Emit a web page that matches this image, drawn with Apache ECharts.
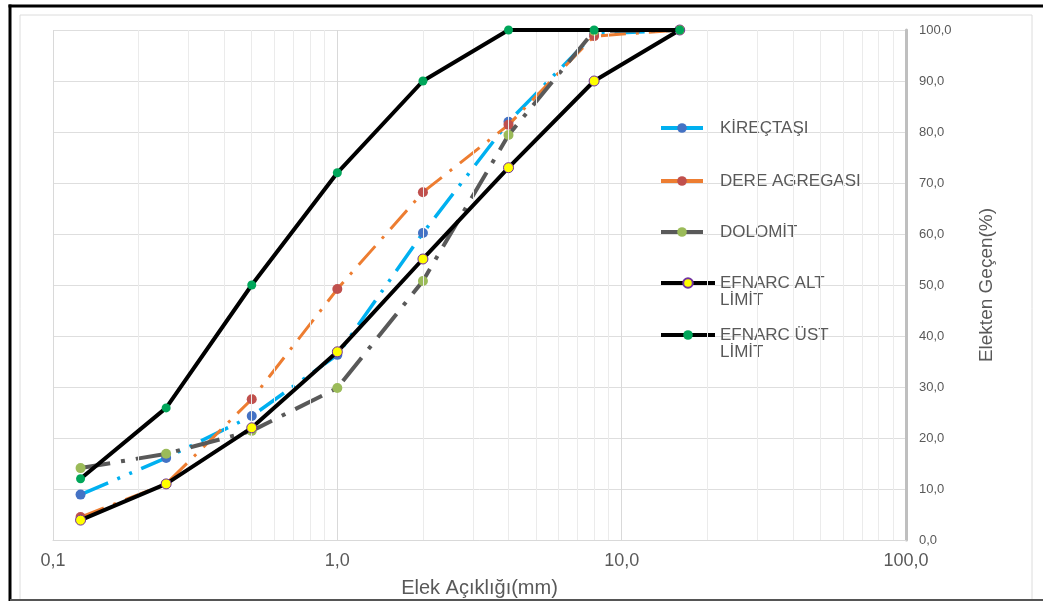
<!DOCTYPE html>
<html>
<head>
<meta charset="utf-8">
<script src="https://cdn.jsdelivr.net/npm/echarts@6/dist/echarts.min.js"></script>
<style>
html,body{margin:0;padding:0;background:#fff;}
#main{width:1043px;height:601px;}
</style>
</head>
<body>
<div id="main"></div>
<script>
// ---- data ----
const sieveSizes = [0.125, 0.25, 0.5, 1, 2, 4, 8, 16];
const kirectasi  = [8.9, 16.1, 24.3, 36.3, 60.2, 82.0, 99.2, 100];
const dereAgregasi = [4.5, 11.0, 27.6, 49.2, 68.2, 81.4, 98.8, 100];
const dolomit    = [14.1, 16.9, 21.4, 29.8, 50.8, 79.4, 99.8, 100];
const altLimit   = [3.9, 11.0, 22.0, 36.9, 55.1, 73.0, 90.0, 100];
const ustLimit   = [12.0, 25.9, 50.0, 72.0, 90.0, 100, 100, 100];
const seriesNames = ['KİREÇTAŞI', 'DERE AGREGASI', 'DOLOMİT', 'EFNARC ALT\nLİMİT', 'EFNARC ÜST\nLİMİT'];
const minorGridX = [0.2,0.3,0.4,0.5,0.6,0.7,0.8,0.9,2,3,4,5,6,7,8,9,20,30,40,50,60,70,80,90];
const xAxisTitle = 'Elek Açıklığı(mm)';
const yAxisTitle = 'Elekten Geçen(%)';

const pairs = arr => sieveSizes.map((s, i) => [s, arr[i]]);
const fmt = v => Number(v).toFixed(1).replace('.', ',');
const FONT = '"Liberation Sans", Arial, sans-serif';

// legend layout: first-line centre of each entry
const legendCenters = [128, 181, 232, 283, 335];
const legendIconWidths = [42, 42, 42, 54, 54];
function makeLegend(i) {
  const twoLine = seriesNames[i].indexOf('\n') >= 0;
  const w = legendIconWidths[i];
  return {
    orient: 'vertical', left: 659,
    top: twoLine ? legendCenters[i] - 25.5 : legendCenters[i] - 8.5,
    padding: 0,
    itemWidth: w, itemHeight: 12,
    data: [seriesNames[i]],
    formatter: name => (twoLine ? ' \n' + name : name),
    lineStyle: { type: 'solid', width: 4 },
    textStyle: {
      color: '#595959', fontSize: 17, lineHeight: 17, fontFamily: FONT,
      padding: [0, 0, 0, 54 - w]
    }
  };
}

const chart = echarts.init(document.getElementById('main'));
chart.setOption({
  animation: false,
  backgroundColor: '#fff',
  textStyle: { fontFamily: FONT },
  graphic: [
    { type: 'rect', shape: { x: 20, y: 15, width: 1012, height: 600 }, style: { fill: 'none', stroke: '#dcdcdc', lineWidth: 1 }, z: 0 },
    { type: 'line', shape: { x1: 8.5, y1: 6, x2: 1043, y2: 6 }, style: { stroke: '#000', lineWidth: 3 }, z: 0 },
    { type: 'line', shape: { x1: 10, y1: 4.5, x2: 10, y2: 601 }, style: { stroke: '#000', lineWidth: 3 }, z: 0 },
    { type: 'line', shape: { x1: 10, y1: 600, x2: 1043, y2: 600 }, style: { stroke: '#555', lineWidth: 2 }, z: 0 }
  ],
  grid: { left: 53, right: 137, top: 30, bottom: 61, containLabel: false, outerBoundsMode: 'none' },
  legend: [0, 1, 2, 3, 4].map(makeLegend),
  xAxis: {
    type: 'log', logBase: 10, min: 0.1, max: 100,
    name: xAxisTitle, nameLocation: 'middle', nameGap: 38,
    nameTextStyle: { color: '#595959', fontSize: 20, fontFamily: FONT },
    axisLine: { show: true, lineStyle: { color: '#d9d9d9', width: 1 } },
    axisTick: { show: false },
    axisLabel: { color: '#595959', fontSize: 18, margin: 12, formatter: fmt, fontFamily: FONT },
    splitLine: { show: true, lineStyle: { color: '#d9d9d9', width: 1 } }
  },
  yAxis: {
    type: 'value', position: 'right', min: 0, max: 100, interval: 10,
    name: yAxisTitle, nameLocation: 'middle', nameGap: 71, nameRotate: 90,
    nameTextStyle: { color: '#595959', fontSize: 19, fontFamily: FONT },
    axisLine: { show: true, lineStyle: { color: '#bfbfbf', width: 3 } },
    axisTick: { show: false },
    axisLabel: { color: '#595959', fontSize: 13, margin: 13, formatter: fmt, fontFamily: FONT },
    splitLine: { show: true, lineStyle: { color: '#dedede', width: 1 } }
  },
  series: [
    {
      name: '_minor', type: 'line', data: [], silent: true, z: 0,
      markLine: {
        silent: true, symbol: 'none', label: { show: false },
        lineStyle: { color: '#ebebeb', width: 1, type: 'solid' },
        data: minorGridX.map(v => ({ xAxis: v }))
      }
    },
    {
      name: seriesNames[0], type: 'line', data: pairs(kirectasi),
      symbol: 'circle', symbolSize: 10,
      itemStyle: { color: '#4472c4' },
      lineStyle: { color: '#00b0f0', width: 3.5, type: [30, 10, 3, 10, 3, 10] }, z: 2
    },
    {
      name: seriesNames[1], type: 'line', data: pairs(dereAgregasi),
      symbol: 'circle', symbolSize: 10,
      itemStyle: { color: '#c0504d' },
      lineStyle: { color: '#ed7d31', width: 3, type: [25, 10, 3, 10] }, z: 3
    },
    {
      name: seriesNames[2], type: 'line', data: pairs(dolomit),
      symbol: 'circle', symbolSize: 10,
      itemStyle: { color: '#9bbb59' },
      lineStyle: { color: '#595959', width: 4, type: [30, 11, 4, 11] }, z: 4
    },
    {
      name: seriesNames[3], type: 'line', data: pairs(altLimit),
      symbol: 'circle', symbolSize: 10,
      itemStyle: { color: '#ffff00', borderColor: '#7030a0', borderWidth: 1 },
      lineStyle: { color: '#000', width: 4 }, z: 5
    },
    {
      name: seriesNames[4], type: 'line', data: pairs(ustLimit),
      symbol: 'circle', symbolSize: 9,
      itemStyle: { color: '#00a65a' },
      lineStyle: { color: '#000', width: 4 }, z: 6
    }
  ]
});
</script>
</body>
</html>
